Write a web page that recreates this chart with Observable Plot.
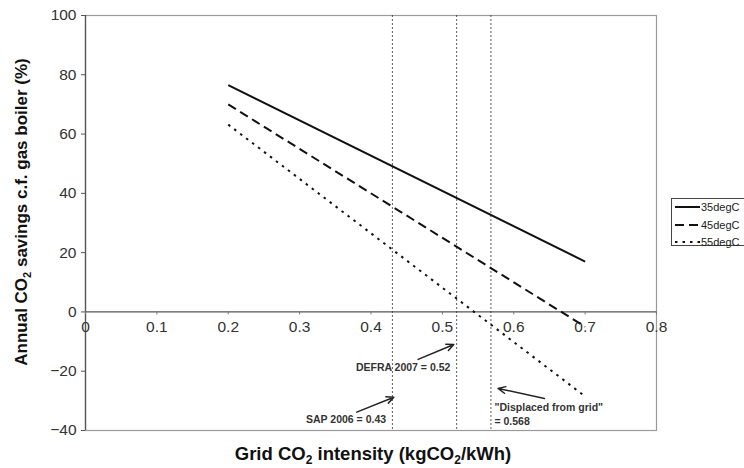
<!DOCTYPE html>
<html>
<head>
<meta charset="utf-8">
<script src="https://cdn.jsdelivr.net/npm/d3@7"></script>
<script src="https://cdn.jsdelivr.net/npm/@observablehq/plot@0.6"></script>
<style>
  html, body { margin: 0; padding: 0; background: #fff; }
  #wrap { position: relative; width: 744px; height: 468px; overflow: hidden; font-family: "Liberation Sans", Arial, sans-serif; }
  #wrap svg { display: block; }
  .ytitle { position: absolute; left: 22px; top: 212px; transform: translate(-50%, -50%) rotate(-90deg); white-space: nowrap; font-weight: bold; font-size: 17px; color: #111; }
  .xtitle { position: absolute; left: 373px; top: 454px; transform: translate(-50%, -50%); white-space: nowrap; font-weight: bold; font-size: 18.5px; color: #111; }
  sub { font-size: 0.65em; vertical-align: -0.35em; line-height: 0; }
  .legend { position: absolute; left: 671px; top: 198px; width: 90px; height: 46px; border: 1px solid #444; background: #fff; font-size: 11px; color: #222; }
  .legend .row { position: absolute; left: 2px; height: 14px; display: flex; align-items: center; }
  .legend svg { margin-right: 1px; }
</style>
</head>
<body>
<div id="wrap"></div>
<script>
// ---- data ----
const series = ["35degC", "45degC", "55degC"];
const gridIntensity = [0.2, 0.7];
const savings35 = [76.5, 17];
const savings45 = [70, -5];
const savings55 = [63.2, -28.5];
const refValues = [0.43, 0.52, 0.568];
const xTicks = [0, 0.1, 0.2, 0.3, 0.4, 0.5, 0.6, 0.7, 0.8];
const yTicks = [-40, -20, 0, 20, 40, 60, 80, 100];
const annoLabels = ["SAP 2006 = 0.43", "DEFRA 2007 = 0.52", "\"Displaced from grid\"", "= 0.568"];

// ---- build tables ----
const allSavings = [savings35, savings45, savings55];
const rows = series.flatMap((s, i) => gridIntensity.map((g, j) => ({series: s, x: g, y: allSavings[i][j]})));
const dashes = {"35degC": null, "45degC": "9,5", "55degC": "2.5,5"};

// annotation placement (data coordinates)
const annoCentered = [
  {text: annoLabels[0], x: 0.365, y: -36.3},
  {text: annoLabels[1], x: 0.445, y: -18.8}
];
const annoLeft = [
  {text: annoLabels[2], x: 0.573, y: -32.2},
  {text: annoLabels[3], x: 0.573, y: -37.0}
];
const annoArrows = [
  {x1: 0.380, y1: -33.8, x2: 0.432, y2: -28.8},
  {x1: 0.466, y1: -16.0, x2: 0.516, y2: -11.0},
  {x1: 0.643, y1: -29.2, x2: 0.578, y2: -25.8}
];

const W = 744, H = 468, mT = 15, mB = 38, mL = 85, mR = 88;
const yDomain = [-40, 100];
const plotH = H - mT - mB;
const yZero = mT + plotH * (yDomain[1] - 0) / (yDomain[1] - yDomain[0]);
const xAxisOffset = -((H - mB) - yZero);

const font = "Liberation Sans, Arial, sans-serif";

const plot = Plot.plot({
  width: W, height: H,
  marginTop: mT, marginBottom: mB, marginLeft: mL, marginRight: mR,
  style: {fontFamily: font, background: "#fff"},
  x: {domain: [0, 0.8]},
  y: {domain: yDomain},
  marks: [
    Plot.frame({stroke: "#9a9a9a", strokeWidth: 1.2}),
    Plot.ruleY([0], {stroke: "#555", strokeWidth: 1.3}),
    Plot.ruleX([0], {stroke: "#555", strokeWidth: 1.3}),
    Plot.ruleX(refValues, {stroke: "#333", strokeWidth: 0.8, strokeDasharray: "2,2"}),
    Plot.axisY(yTicks, {tickSize: 4, tickPadding: 5, fontSize: 15.5, fill: "#333", stroke: "#555", label: null}),
    Plot.axisX(xTicks, {anchor: "bottom", dy: xAxisOffset, tickSize: 3, tickPadding: 6, fontSize: 15.5, fill: "#333", stroke: "#777", label: null, tickFormat: d => String(d)}),
    ...series.map(s => Plot.line(rows.filter(r => r.series === s), {
      x: "x", y: "y", stroke: "#111", strokeWidth: 2,
      strokeDasharray: dashes[s] || undefined, strokeLinecap: "butt"
    })),
    Plot.arrow(annoArrows, {x1: "x1", y1: "y1", x2: "x2", y2: "y2", stroke: "#222", strokeWidth: 1.5, headLength: 8, headAngle: 50}),
    Plot.text(annoCentered, {x: "x", y: "y", text: "text", textAnchor: "middle", fontSize: 10.5, fontWeight: "bold", fill: "#333"}),
    Plot.text(annoLeft, {x: "x", y: "y", text: "text", textAnchor: "start", fontSize: 10.5, fontWeight: "bold", fill: "#333"})
  ]
});

const wrap = document.getElementById("wrap");
wrap.appendChild(plot);

const yt = document.createElement("div");
yt.className = "ytitle";
yt.innerHTML = "Annual CO<sub>2</sub> savings c.f. gas boiler (%)";
wrap.appendChild(yt);

const xt = document.createElement("div");
xt.className = "xtitle";
xt.innerHTML = "Grid CO<sub>2</sub> intensity (kgCO<sub>2</sub>/kWh)";
wrap.appendChild(xt);

const lg = document.createElement("div");
lg.className = "legend";
series.forEach((s, i) => {
  const r = document.createElement("div");
  r.className = "row";
  r.style.top = (1 + i * 17.5) + "px";
  const d = dashes[s];
  r.innerHTML = `<svg width="26" height="10"><line x1="1" y1="5" x2="26" y2="5" stroke="#111" stroke-width="2" ${d ? `stroke-dasharray="${d}"` : ""}/></svg><span>${s}</span>`;
  lg.appendChild(r);
});
wrap.appendChild(lg);
</script>
</body>
</html>
